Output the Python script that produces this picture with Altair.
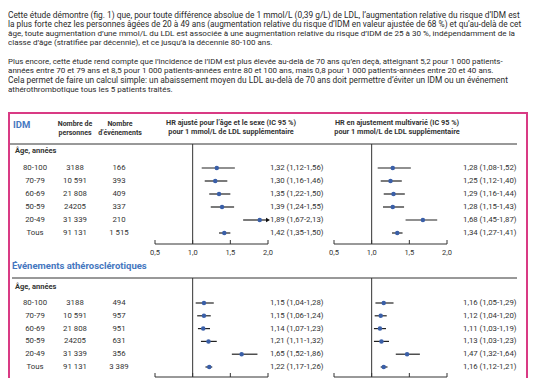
import altair as alt
import pandas as pd

FONT = "Roboto"
PFONT = "Roboto"
TXT = "#333333"
BLUE_T = "#4577c0"
BLUE_M = "#3a5fa8"
PINK = "#d93a84"

# ---------------- data ----------------
para1 = [
    "Cette étude démontre (fig. 1) que, pour toute différence absolue de 1 mmol/L (0,39 g/L) de LDL, l’augmentation relative du risque d’IDM est",
    "la plus forte chez les personnes âgées de 20 à 49 ans (augmentation relative du risque d’IDM en valeur ajustée de 68 %) et qu’au-delà de cet",
    "âge, toute augmentation d’une mmol/L du LDL est associée à une augmentation relative du risque d’IDM de 25 à 30 %, indépendamment de la",
    "classe d’âge (stratifiée par décennie), et ce jusqu’à la décennie 80-100 ans.",
]
para2 = [
    "Plus encore, cette étude rend compte que l’incidence de l’IDM est plus élevée au-delà de 70 ans qu’en deçà, atteignant 5,2 pour 1 000 patients-",
    "années entre 70 et 79 ans et 8,5 pour 1 000 patients-années entre 80 et 100 ans, mais 0,8 pour 1 000 patients-années entre 20 et 40 ans.",
    "Cela permet de faire un calcul simple: un abaissement moyen du LDL au-delà de 70 ans doit permettre d’éviter un IDM ou un événement",
    "athérothrombotique tous les 5 patients traités.",
]

ages = ["80-100", "70-79", "60-69", "50-59", "20-49", "Tous"]
persons = ["3188", "10 591", "21 808", "24205", "31 339", "91 131"]

idm_events = ["166", "393", "409", "337", "210", "1 515"]
idm_hr1 = [1.32, 1.30, 1.35, 1.39, 1.89, 1.42]
idm_hr1_lo = [1.12, 1.16, 1.22, 1.24, 1.67, 1.35]
idm_hr1_hi = [1.56, 1.46, 1.50, 1.55, 2.13, 1.50]
idm_hr2 = [1.28, 1.25, 1.29, 1.28, 1.68, 1.34]
idm_hr2_lo = [1.08, 1.12, 1.16, 1.15, 1.45, 1.27]
idm_hr2_hi = [1.52, 1.40, 1.44, 1.43, 1.87, 1.41]

ath_events = ["494", "957", "951", "631", "356", "3 389"]
ath_hr1 = [1.15, 1.15, 1.14, 1.21, 1.65, 1.22]
ath_hr1_lo = [1.04, 1.06, 1.07, 1.11, 1.52, 1.17]
ath_hr1_hi = [1.28, 1.24, 1.23, 1.32, 1.86, 1.26]
ath_hr2 = [1.16, 1.12, 1.11, 1.13, 1.47, 1.16]
ath_hr2_lo = [1.05, 1.04, 1.03, 1.03, 1.32, 1.12]
ath_hr2_hi = [1.29, 1.20, 1.19, 1.23, 1.64, 1.21]

tick_vals = [0.5, 1.0, 1.5, 2.0]
tick_labels = ["0,5", "1,0", "1,5", "2,0"]


def fr(v):
    return f"{v:.2f}".replace(".", ",")


def section_df(events, h1, l1, u1, h2, l2, u2):
    return pd.DataFrame({
        "row": list(range(len(ages))),
        "age": ages,
        "persons": persons,
        "events": events,
        "est1": h1, "lo1": l1, "hi1": u1,
        "lab1": [f"{fr(a)} ({fr(b)}-{fr(c)})" for a, b, c in zip(h1, l1, u1)],
        "est2": h2, "lo2": l2, "hi2": u2,
        "lab2": [f"{fr(a)} ({fr(b)}-{fr(c)})" for a, b, c in zip(h2, l2, u2)],
    })


idm = section_df(idm_events, idm_hr1, idm_hr1_lo, idm_hr1_hi, idm_hr2, idm_hr2_lo, idm_hr2_hi)
ath = section_df(ath_events, ath_hr1, ath_hr1_lo, ath_hr1_hi, ath_hr2, ath_hr2_lo, ath_hr2_hi)
ticks = pd.DataFrame({"v": tick_vals, "lab": tick_labels})
one = pd.DataFrame({"v": [1.0]})

# ---------------- helpers ----------------
layers = []


def label(text, x, y, size=7.5, bold=False, color=TXT, align="left", font=FONT):
    return alt.Chart(pd.DataFrame({"t": [text]})).mark_text(
        align=align, baseline="middle", fontSize=size, font=font,
        fontWeight="bold" if bold else "normal", color=color,
    ).encode(x=alt.value(x), y=alt.value(y), text="t:N")


def hrule(x1, x2, y, color=TXT, w=1):
    return alt.Chart(pd.DataFrame({"a": [0]})).mark_rule(color=color, strokeWidth=w).encode(
        x=alt.value(x1), x2=alt.value(x2), y=alt.value(y))


# paragraphs (per-line size to mimic justified text)
for line, yy, fs in zip(para1, [7, 17, 26.3, 35.3], [8.36, 8.31, 8.1, 8.0]):
    layers.append(label(line, 0, yy, size=fs, font=PFONT, color="#2a2a2a"))
for line, yy, fs in zip(para2, [53.7, 63, 72.3, 82], [7.88, 8.06, 8.36, 8.0]):
    layers.append(label(line, 0, yy, size=fs, font=PFONT, color="#2a2a2a"))

# pink frame
layers.append(
    alt.Chart(pd.DataFrame({"a": [0]})).mark_rect(fill=None, stroke=PINK, strokeWidth=2).encode(
        x=alt.value(1), x2=alt.value(519), y=alt.value(105), y2=alt.value(420))
)

# headers
layers.append(label("IDM", 5, 117, size=9.5, bold=True, color=BLUE_T))
layers.append(label("Nombre de", 67, 116, size=7, bold=True, align="center"))
layers.append(label("personnes", 67, 125, size=7, bold=True, align="center"))
layers.append(label("Nombre", 112, 116, size=7, bold=True, align="center"))
layers.append(label("d’événements", 112, 125, size=7, bold=True, align="center"))
layers.append(label("HR ajusté pour l’âge et le sexe (IC 95 %)", 223, 115, size=7.3, bold=True, align="center"))
layers.append(label("pour 1 mmol/L de LDL supplémentaire", 223, 124, size=7.3, bold=True, align="center"))
layers.append(label("HR en ajustement multivarié (IC 95 %)", 389, 115, size=7.3, bold=True, align="center"))
layers.append(label("pour 1 mmol/L de LDL supplémentaire", 389, 124, size=7.3, bold=True, align="center"))
layers.append(hrule(2, 509, 136))
layers.append(label("Âge, années", 7, 143, size=7.5, bold=True))

layers.append(label("Événements athérosclérotiques", 4, 258, size=9.5, bold=True, color=BLUE_T))
layers.append(hrule(4, 509, 270))
layers.append(label("Âge, années", 7, 279, size=7.5, bold=True))


def section_layers(df, yrange, ytop, yaxis):
    ys = alt.Scale(domain=[0, 5], range=yrange, zero=False, nice=False)
    Y = alt.Y("row:Q", scale=ys, axis=None)
    out = []
    base = alt.Chart(df)
    tx = dict(baseline="middle", fontSize=7.8, font=FONT, color=TXT)
    out.append(base.mark_text(align="center", **tx).encode(x=alt.value(27), y=Y, text="age:N"))
    out.append(base.mark_text(align="center", **tx).encode(x=alt.value(67), y=Y, text="persons:N"))
    out.append(base.mark_text(align="center", **tx).encode(x=alt.value(111), y=Y, text="events:N"))
    for k, (rng, labx) in enumerate([([147, 260], 262), ([326, 439], 455)], start=1):
        xs = alt.Scale(domain=[0.5, 2.0], range=rng, zero=False, nice=False, clamp=True)
        # reference line at 1
        out.append(alt.Chart(one).mark_rule(color=TXT, strokeWidth=1).encode(
            x=alt.X("v:Q", scale=xs, axis=None), y=alt.value(ytop), y2=alt.value(yaxis)))
        # axis line
        out.append(alt.Chart(ticks).mark_rule(color=TXT, strokeWidth=1).encode(
            x=alt.X("min(v):Q", scale=xs, axis=None), x2="max(v):Q", y=alt.value(yaxis)))
        out.append(alt.Chart(ticks).mark_rule(color=TXT, strokeWidth=1).encode(
            x=alt.X("v:Q", scale=xs, axis=None), y=alt.value(yaxis - 4), y2=alt.value(yaxis)))
        out.append(alt.Chart(ticks).mark_text(align="center", baseline="middle", fontSize=7.5,
                                              font=FONT, color=TXT).encode(
            x=alt.X("v:Q", scale=xs, axis=None), y=alt.value(yaxis + 9), text="lab:N"))
        # CI
        out.append(base.mark_rule(color="#222222", strokeWidth=1.2).encode(
            x=alt.X(f"lo{k}:Q", scale=xs, axis=None), x2=f"hi{k}:Q", y=Y))
        out.append(base.transform_filter(f"datum.hi{k} > 2").mark_point(
            shape="triangle-right", filled=True, color="#111111", size=22, opacity=1).encode(
            x=alt.X(f"hi{k}:Q", scale=xs, axis=None), y=Y))
        out.append(base.mark_point(shape="circle", filled=True, color=BLUE_M, size=20, opacity=1).encode(
            x=alt.X(f"est{k}:Q", scale=xs, axis=None), y=Y))
        out.append(base.mark_text(align="left", **tx).encode(x=alt.value(labx), y=Y, text=f"lab{k}:N"))
    return out


layers += section_layers(idm, [160, 225], 136, 236)
layers += section_layers(ath, [295, 359], 270, 369)

chart = alt.layer(*layers).resolve_scale(x="independent", y="independent").properties(
    width=520, height=370, autosize=alt.AutoSizeParams(type="none"), padding=0,
    background="white",
).configure_view(stroke=None)

chart.save("out.html", embed_options={"renderer": "svg", "actions": False})
